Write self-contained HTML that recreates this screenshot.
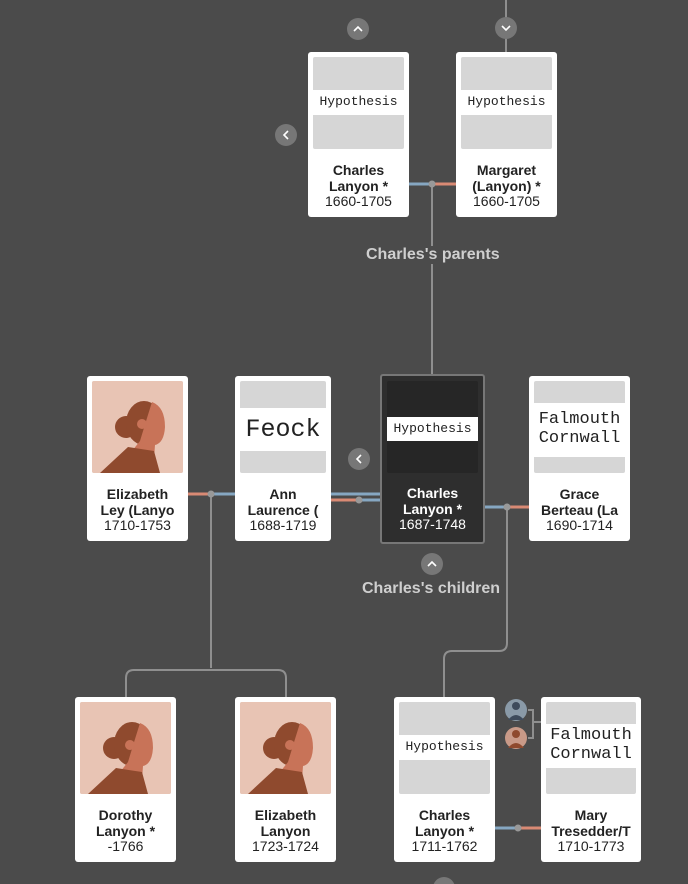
<!DOCTYPE html>
<html><head><meta charset="utf-8"><style>
*{margin:0;padding:0;box-sizing:border-box}
body{width:688px;height:884px;background:#4b4b4b;position:relative;overflow:hidden;font-family:"Liberation Sans",sans-serif}
.card{position:absolute;width:101px;height:165px;background:#fff;border-radius:3px}
.img{position:absolute;left:5px;top:5px;right:5px;height:92px;background:#d6d6d6;border-radius:2px;overflow:hidden}
.band{position:absolute;left:0;right:0;background:#fff;display:flex;align-items:center;justify-content:center;text-align:center;font-family:"Liberation Mono",monospace;color:#222;line-height:1.1}
.txt{position:absolute;left:0;right:0;top:111px;text-align:center;color:#222;font-size:14px;line-height:15.5px}
.txt b{display:block;font-weight:bold}
.dark{background:#2e2e2e;border:2px solid #777}
.dark .img{background:#262626}
.dark .txt{color:#fff}
.lbl{position:absolute;color:#cfcfcf;font-weight:bold;font-size:16px;background:#4b4b4b;white-space:nowrap}
svg{position:absolute;left:0;top:0}
</style></head><body>
<svg width="688" height="884">
<g stroke="#8f8f8f" stroke-width="2" fill="none">
<path d="M506 0 Q506 8 506 20 M506 36 L506 52"/>
<path d="M432 184 L432 374"/>
<path d="M211 494 L211 668 M126 697 L126 678 Q126 670 134 670 L278 670 Q286 670 286 678 L286 697"/>
<path d="M507 507 L507 643 Q507 651 499 651 L452 651 Q444 651 444 659 L444 697"/>
<path d="M528 710 L533 710 L533 738 L528 738 M533 722 L541 722"/>
</g>
<g stroke-width="3">
<line x1="409" y1="184" x2="432" y2="184" stroke="#86a7c2"/><line x1="432" y1="184" x2="456" y2="184" stroke="#d98a74"/>
<line x1="187" y1="494" x2="211" y2="494" stroke="#d98a74"/><line x1="211" y1="494" x2="235" y2="494" stroke="#86a7c2"/>
<line x1="331" y1="494" x2="380" y2="494" stroke="#86a7c2"/>
<line x1="331" y1="500" x2="359" y2="500" stroke="#d98a74"/><line x1="359" y1="500" x2="380" y2="500" stroke="#86a7c2"/>
<line x1="485" y1="507" x2="507" y2="507" stroke="#86a7c2"/><line x1="507" y1="507" x2="529" y2="507" stroke="#d98a74"/>
<line x1="495" y1="828" x2="518" y2="828" stroke="#86a7c2"/><line x1="518" y1="828" x2="541" y2="828" stroke="#d98a74"/>
</g>
<g fill="#999"><circle cx="432" cy="184" r="3.5"/><circle cx="211" cy="494" r="3.5"/><circle cx="359" cy="500" r="3.5"/><circle cx="507" cy="507" r="3.5"/><circle cx="518" cy="828" r="3.5"/></g>
<g fill="#777"><circle cx="358" cy="29" r="11"/><circle cx="506" cy="28" r="11"/><circle cx="286" cy="135" r="11"/><circle cx="359" cy="459" r="11"/><circle cx="432" cy="564" r="11"/><circle cx="444" cy="888" r="11"/></g>
<g stroke="#fff" stroke-width="1.6" fill="none">
<path d="M354 31 L358 27 L362 31"/><path d="M502 26 L506 30 L510 26"/><path d="M288 131 L284 135 L288 139"/><path d="M361 455 L357 459 L361 463"/><path d="M428 566 L432 562 L436 566"/>
</g>
<circle cx="516" cy="710" r="11" fill="#8a9aa8"/><circle cx="516" cy="706" r="4" fill="#3e4b5c"/><path d="M508 720 Q516 710 524 720Z" fill="#3e4b5c"/>
<circle cx="516" cy="738" r="11" fill="#c99a88"/><circle cx="516" cy="734" r="4" fill="#8f4a2e"/><path d="M508 748 Q516 738 524 748Z" fill="#8f4a2e"/>
<defs>
<g id="av"><rect width="92" height="92" fill="#e8c4b4"/><circle cx="34" cy="46" r="11" fill="#8f4a2e"/><ellipse cx="52" cy="42" rx="18" ry="22" fill="#8f4a2e"/><path d="M60 21 Q73 26 73 46 Q72 62 63 64 L62 78 L40 70 L48 60 Q54 40 60 21Z" fill="#c87358"/><circle cx="50" cy="43" r="5" fill="#c87358"/><path d="M8 92 L36 66 L62 70 L68 92Z" fill="#8f4a2e"/></g>
</defs>
</svg>

<div class="lbl" style="left:366px;top:246px">Charles's parents</div>
<div class="lbl" style="left:362px;top:580px">Charles's children</div>

<div class="card" style="left:308px;top:52px"><div class="img"><div class="band" style="top:33px;height:25px;font-size:13px">Hypothesis</div></div><div class="txt"><b>Charles<br>Lanyon *</b>1660-1705</div></div>
<div class="card" style="left:456px;top:52px"><div class="img"><div class="band" style="top:33px;height:25px;font-size:13px">Hypothesis</div></div><div class="txt"><b>Margaret<br>(Lanyon) *</b>1660-1705</div></div>

<div class="card" style="left:87px;top:376px"><div class="img"><svg width="92" height="92"><use href="#av"/></svg></div><div class="txt"><b>Elizabeth<br>Ley (Lanyo</b>1710-1753</div></div>
<div class="card" style="left:235px;top:376px;width:96px"><div class="img"><div class="band" style="top:27px;height:43px;font-size:25px">Feock</div></div><div class="txt"><b>Ann<br>Laurence (</b>1688-1719</div></div>
<div class="card dark" style="left:380px;top:374px;width:105px;height:170px"><div class="img" style="left:5px;right:5px;top:5px;height:92px"><div class="band" style="top:36px;height:24px;font-size:13px">Hypothesis</div></div><div class="txt" style="top:110px"><b>Charles<br>Lanyon *</b>1687-1748</div></div>
<div class="card" style="left:529px;top:376px"><div class="img"><div class="band" style="top:22px;height:54px;font-size:17px">Falmouth<br>Cornwall</div></div><div class="txt"><b>Grace<br>Berteau (La</b>1690-1714</div></div>

<div class="card" style="left:75px;top:697px"><div class="img"><svg width="92" height="92"><use href="#av"/></svg></div><div class="txt"><b>Dorothy<br>Lanyon *</b>-1766</div></div>
<div class="card" style="left:235px;top:697px"><div class="img"><svg width="92" height="92"><use href="#av"/></svg></div><div class="txt"><b>Elizabeth<br>Lanyon</b>1723-1724</div></div>
<div class="card" style="left:394px;top:697px"><div class="img"><div class="band" style="top:33px;height:25px;font-size:13px">Hypothesis</div></div><div class="txt"><b>Charles<br>Lanyon *</b>1711-1762</div></div>
<div class="card" style="left:541px;top:697px;width:100px"><div class="img"><div class="band" style="top:22px;height:44px;font-size:17px">Falmouth<br>Cornwall</div></div><div class="txt"><b>Mary<br>Tresedder/T</b>1710-1773</div></div>
</body></html>
